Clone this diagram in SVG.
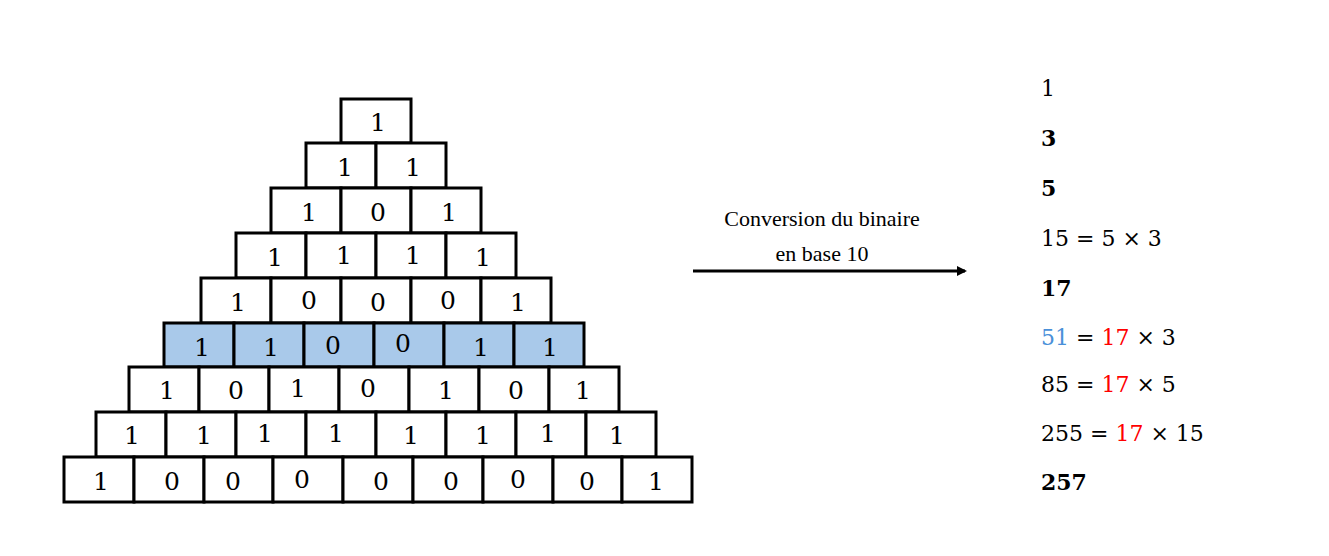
<svg xmlns="http://www.w3.org/2000/svg" width="1329" height="556" viewBox="0 0 1329 556">
<style>
.c{fill:#fff;stroke:#000;stroke-width:3}
.b{fill:#a9c9ea;stroke:#000;stroke-width:3}
.d{font-family:"DejaVu Serif","Liberation Serif",serif;font-size:25px;text-anchor:middle}
.r{font-family:"DejaVu Serif","Liberation Serif",serif;font-size:22px}
.bold{font-weight:bold}
.red{fill:#ff0000}
.blu{fill:#4a90d9}
.l{font-family:"Liberation Serif",serif;font-size:22px;text-anchor:middle}
</style>
<defs><marker id="ah" markerWidth="10" markerHeight="10" refX="8" refY="5" orient="auto" markerUnits="userSpaceOnUse"><path d="M0,0 L10,5 L0,10 z" fill="#000"/></marker></defs>
<g id="pyramid">
<g id="row1"><rect class="c" x="341" y="99" width="70" height="44"/><text class="d" x="378" y="131">1</text></g>
<g id="row2"><rect class="c" x="306" y="143" width="70" height="45"/><rect class="c" x="376" y="143" width="70" height="45"/><text class="d" x="345" y="176">1</text><text class="d" x="413" y="176">1</text></g>
<g id="row3"><rect class="c" x="271" y="188" width="70" height="45"/><rect class="c" x="341" y="188" width="70" height="45"/><rect class="c" x="411" y="188" width="70" height="45"/><text class="d" x="309" y="221">1</text><text class="d" x="378" y="221">0</text><text class="d" x="449" y="221">1</text></g>
<g id="row4"><rect class="c" x="236" y="233" width="70" height="45"/><rect class="c" x="306" y="233" width="70" height="45"/><rect class="c" x="376" y="233" width="70" height="45"/><rect class="c" x="446" y="233" width="70" height="45"/><text class="d" x="275" y="266">1</text><text class="d" x="344" y="264">1</text><text class="d" x="413" y="264">1</text><text class="d" x="483" y="266">1</text></g>
<g id="row5"><rect class="c" x="201" y="278" width="70" height="45"/><rect class="c" x="271" y="278" width="70" height="45"/><rect class="c" x="341" y="278" width="70" height="45"/><rect class="c" x="411" y="278" width="70" height="45"/><rect class="c" x="481" y="278" width="70" height="45"/><text class="d" x="238" y="311">1</text><text class="d" x="309" y="309">0</text><text class="d" x="378" y="311">0</text><text class="d" x="448" y="309">0</text><text class="d" x="518" y="311">1</text></g>
<g id="row6"><rect class="b" x="164" y="323" width="70" height="44"/><rect class="b" x="234" y="323" width="70" height="44"/><rect class="b" x="304" y="323" width="70" height="44"/><rect class="b" x="374" y="323" width="70" height="44"/><rect class="b" x="444" y="323" width="70" height="44"/><rect class="b" x="514" y="323" width="70" height="44"/><text class="d" x="202" y="356">1</text><text class="d" x="271" y="356">1</text><text class="d" x="333" y="354">0</text><text class="d" x="403" y="352">0</text><text class="d" x="481" y="356">1</text><text class="d" x="550" y="356">1</text></g>
<g id="row7"><rect class="c" x="129" y="367" width="70" height="45"/><rect class="c" x="199" y="367" width="70" height="45"/><rect class="c" x="269" y="367" width="70" height="45"/><rect class="c" x="339" y="367" width="70" height="45"/><rect class="c" x="409" y="367" width="70" height="45"/><rect class="c" x="479" y="367" width="70" height="45"/><rect class="c" x="549" y="367" width="70" height="45"/><text class="d" x="167" y="399">1</text><text class="d" x="236" y="399">0</text><text class="d" x="298" y="397">1</text><text class="d" x="368" y="397">0</text><text class="d" x="446" y="399">1</text><text class="d" x="516" y="399">0</text><text class="d" x="583" y="399">1</text></g>
<g id="row8"><rect class="c" x="96" y="412" width="70" height="45"/><rect class="c" x="166" y="412" width="70" height="45"/><rect class="c" x="236" y="412" width="70" height="45"/><rect class="c" x="306" y="412" width="70" height="45"/><rect class="c" x="376" y="412" width="70" height="45"/><rect class="c" x="446" y="412" width="70" height="45"/><rect class="c" x="516" y="412" width="70" height="45"/><rect class="c" x="586" y="412" width="70" height="45"/><text class="d" x="132" y="444">1</text><text class="d" x="204" y="444">1</text><text class="d" x="265" y="442">1</text><text class="d" x="336" y="442">1</text><text class="d" x="411" y="444">1</text><text class="d" x="483" y="444">1</text><text class="d" x="548" y="442">1</text><text class="d" x="617" y="444">1</text></g>
<g id="row9"><rect class="c" x="64" y="457" width="70" height="45"/><rect class="c" x="134" y="457" width="70" height="45"/><rect class="c" x="204" y="457" width="69" height="45"/><rect class="c" x="273" y="457" width="70" height="45"/><rect class="c" x="343" y="457" width="70" height="45"/><rect class="c" x="413" y="457" width="70" height="45"/><rect class="c" x="483" y="457" width="70" height="45"/><rect class="c" x="553" y="457" width="69" height="45"/><rect class="c" x="622" y="457" width="70" height="45"/><text class="d" x="101" y="490">1</text><text class="d" x="172" y="490">0</text><text class="d" x="233" y="490">0</text><text class="d" x="302" y="488">0</text><text class="d" x="381" y="490">0</text><text class="d" x="451" y="490">0</text><text class="d" x="518" y="488">0</text><text class="d" x="587" y="490">0</text><text class="d" x="656" y="490">1</text></g>
</g>
<g id="connectors"><line x1="693" y1="271" x2="965" y2="271" stroke="#000" stroke-width="3" marker-end="url(#ah)"/></g>
<g id="label"><text class="l" x="822" y="226">Conversion du binaire</text><text class="l" x="822" y="261">en base 10</text></g>
<g id="results">
<text class="r" x="1041" y="96">1</text>
<text class="r bold" x="1041" y="146">3</text>
<text class="r bold" x="1041" y="196">5</text>
<text class="r" x="1041" y="246">15 = 5 × 3</text>
<text class="r bold" x="1041" y="296">17</text>
<text class="r" x="1041" y="345"><tspan class="blu">51</tspan> = <tspan class="red">17</tspan> × 3</text>
<text class="r" x="1041" y="392">85 = <tspan class="red">17</tspan> × 5</text>
<text class="r" x="1041" y="441">255 = <tspan class="red">17</tspan> × 15</text>
<text class="r bold" x="1041" y="490">257</text>
</g>
</svg>
